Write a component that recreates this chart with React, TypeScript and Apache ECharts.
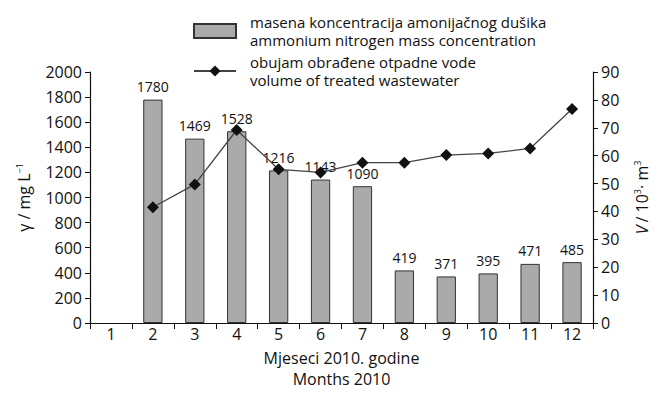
import React, { useEffect, useRef } from "react";
import * as echarts from "echarts";

const months = ["1", "2", "3", "4", "5", "6", "7", "8", "9", "10", "11", "12"];
const concentration: (number | null)[] = [null, 1780, 1469, 1528, 1216, 1143, 1090, 419, 371, 395, 471, 485];
const volume: (number | null)[] = [null, 41.5, 49.7, 69.2, 55.1, 54.0, 57.5, 57.5, 60.2, 60.8, 62.6, 76.7];
const barName = "masena koncentracija amonijačnog dušika\nammonium nitrogen mass concentration";
const lineName = "obujam obrađene otpadne vode\nvolume of treated wastewater";

const FONT = "Open Sans";

export default function App() {
  const ref = useRef<HTMLDivElement>(null);
  useEffect(() => {
    if (!ref.current) return;
    const chart = echarts.init(ref.current, null, { renderer: "svg" });
    chart.setOption({
      animation: false,
      backgroundColor: "#fff",
      textStyle: { fontFamily: FONT, color: "#111" },
      legend: {
        orient: "vertical",
        left: 188,
        top: 8,
        itemWidth: 42,
        itemHeight: 14,
        itemGap: 4,
        textStyle: { fontFamily: FONT, fontSize: 15, color: "#111", lineHeight: 18, padding: [0, 0, 0, 9] },
        data: [
          { name: barName, icon: "rect" },
          { name: lineName },
        ],
      },
      grid: { left: 90, right: 71, top: 72, bottom: 77, outerBoundsMode: "none", containLabel: false },
      xAxis: {
        type: "category",
        data: months,
        name: "Mjeseci 2010. godine\nMonths 2010",
        nameLocation: "middle",
        nameMoveOverlap: false,
        nameGap: 24,
        nameTextStyle: { fontFamily: FONT, fontSize: 16, color: "#111", lineHeight: 21, verticalAlign: "top" },
        axisLine: { lineStyle: { color: "#111", width: 1.2 } },
        axisTick: { show: true, alignWithLabel: false, length: 6, lineStyle: { color: "#111" } },
        axisLabel: { fontFamily: FONT, fontSize: 16, color: "#111", margin: 4, lineHeight: 14 },
      },
      yAxis: [
        {
          type: "value",
          min: 0,
          max: 2000,
          interval: 200,
          name: "{n|γ / mg L}{sup|−1}",
          nameLocation: "middle",
          nameRotate: 90,
          nameGap: 58,
          nameTextStyle: {
            rich: {
              n: { fontFamily: FONT, fontSize: 16, color: "#111" },
              sup: { fontFamily: FONT, fontSize: 9, color: "#111", verticalAlign: "top", padding: [0, 0, 8, 0] },
            },
          },
          axisLine: { show: true, lineStyle: { color: "#111", width: 1.2 } },
          axisTick: { show: true, length: 5, lineStyle: { color: "#111" } },
          axisLabel: { fontFamily: FONT, fontSize: 16, color: "#111", margin: 8, formatter: (v: number) => String(v) },
          splitLine: { show: false },
        },
        {
          type: "value",
          min: 0,
          max: 90,
          interval: 10,
          position: "right",
          name: "{i|V} {n|/ 10}{sup|3}{n|· m}{sup|3}",
          nameLocation: "middle",
          nameRotate: 90,
          nameGap: 40,
          nameTextStyle: {
            rich: {
              i: { fontFamily: FONT, fontSize: 16, fontStyle: "italic", color: "#111" },
              n: { fontFamily: FONT, fontSize: 16, color: "#111" },
              sup: { fontFamily: FONT, fontSize: 9, color: "#111", verticalAlign: "top", padding: [0, 0, 8, 0] },
            },
          },
          axisLine: { show: true, lineStyle: { color: "#111", width: 1.2 } },
          axisTick: { show: true, length: 5, lineStyle: { color: "#111" } },
          axisLabel: { fontFamily: FONT, fontSize: 16, color: "#111", margin: 8, formatter: (v: number) => String(v) },
          splitLine: { show: false },
        },
      ],
      series: [
        {
          name: barName,
          type: "bar",
          yAxisIndex: 0,
          data: concentration.map((v) => (v === null ? "-" : v)),
          barWidth: "46%",
          itemStyle: { color: "#aaaaaa", borderColor: "#333", borderWidth: 1 },
          label: {
            show: true,
            position: "top",
            distance: 6,
            fontFamily: FONT,
            fontSize: 14,
            color: "#111",
          },
        },
        {
          name: lineName,
          type: "line",
          yAxisIndex: 1,
          data: volume.map((v) => (v === null ? "-" : v)),
          symbol: "diamond",
          symbolSize: 12,
          itemStyle: { color: "#111" },
          lineStyle: { color: "#444", width: 1.3 },
          z: 5,
        },
      ],
    });
    return () => chart.dispose();
  }, []);
  return <div ref={ref} style={{ width: 664, height: 400, position: "absolute", left: 0, top: 0 }} />;
}
